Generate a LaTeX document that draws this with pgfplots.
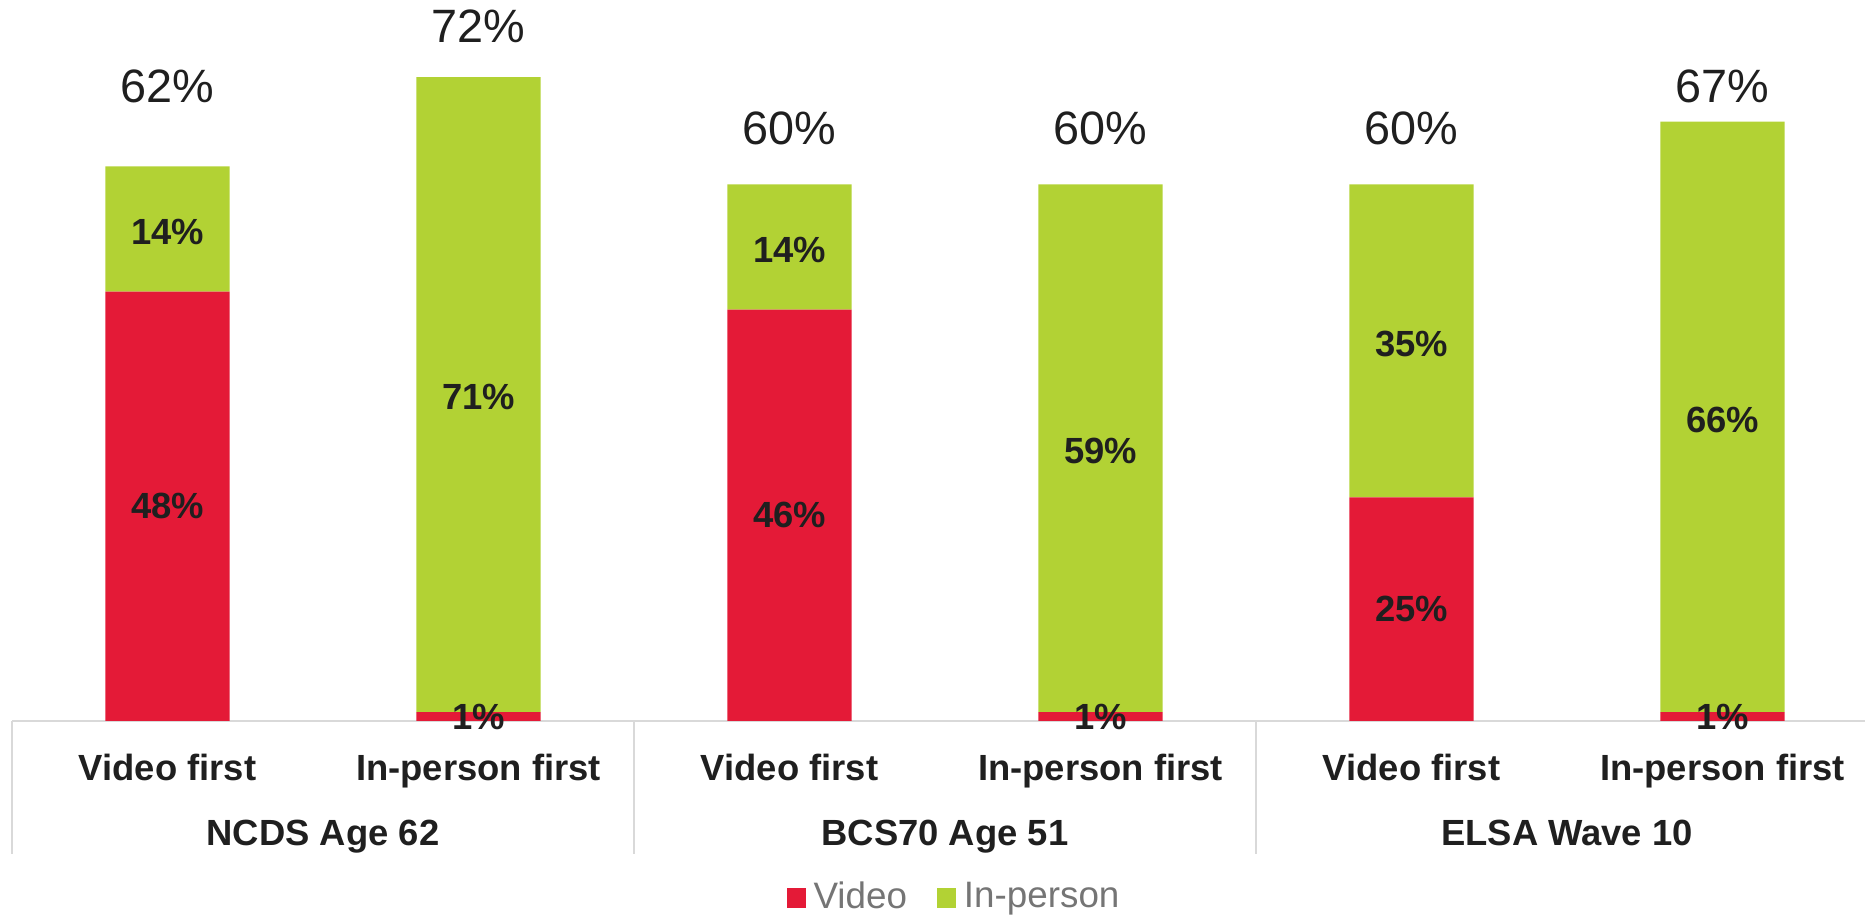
\documentclass[border=0pt]{standalone}
\usepackage{pgfplots}
\pgfplotsset{compat=1.18}
\usepackage{fontspec}
\setmainfont{Liberation Sans}
\definecolor{vred}{HTML}{E41A37}
\definecolor{ipgreen}{HTML}{B2D234}
\definecolor{txt}{HTML}{1F1F1F}
\definecolor{lgray}{HTML}{D9D9D9}
\definecolor{leggray}{HTML}{757575}
\newcommand{\lab}{\bfseries\fontsize{9.1}{10}\selectfont}
\begin{document}
\begin{tikzpicture}
\begin{axis}[
  x=77.75pt, y=2.236pt,
  xmin=-0.5, xmax=5.458, ymin=0, ymax=80.6,
  enlargelimits=false,
  ybar stacked, bar width=31.1pt,
  axis y line=none,
  axis x line*=bottom,
  x axis line style={draw=lgray, line width=0.6pt},
  xtick={0,1,2,3,4,5}, major tick length=0pt,
  xticklabels={Video first, In-person first, Video first, In-person first, Video first, In-person first},
  xticklabel style={font=\lab, text=txt, anchor=base, yshift=-14.85pt, inner sep=0pt},
  ytick=\empty,
  clip=false,
  legend style={at={(axis description cs:0.510,-0.2455)}, anchor=center, draw=none, fill=none,
    font=\fontsize{9.2}{10}\selectfont, text=leggray, inner sep=0pt,
    /tikz/every even column/.append style={column sep=5.5pt}},
  legend columns=2,
  legend image code/.code={\fill[#1, draw=none] (0pt,-2.4pt) rectangle (4.75pt,2.4pt);},
]
% Video share
\addplot[fill=vred, draw=none, nodes near coords, point meta=explicit symbolic,
  nodes near coords align={center},
  nodes near coords style={font=\lab, text=txt}]
coordinates {(0,48)[48\%] (1,1)[1\%] (2,46)[46\%] (3,1)[1\%] (4,25)[25\%] (5,1)[1\%]};
% In-person share
\addplot[fill=ipgreen, draw=none, nodes near coords, point meta=explicit symbolic,
  nodes near coords align={center},
  nodes near coords style={font=\lab, text=txt, yshift=-0.7pt}]
coordinates {(0,14)[14\%] (1,71)[71\%] (2,14)[14\%] (3,59)[59\%] (4,35)[35\%] (5,66)[66\%]};
% totals (invisible spacer carrying the total labels)
\addplot[fill=none, draw=none, nodes near coords, point meta=explicit symbolic,
  nodes near coords align={center},
  nodes near coords style={font=\fontsize{11.7}{13}\selectfont, text=txt}]
coordinates {(0,17.8)[62\%] (1,11.4)[72\%] (2,12.4)[60\%] (3,12.4)[60\%] (4,12.4)[60\%] (5,8.0)[67\%]};
\legend{Video, In-person}
% group separators and labels
\draw[lgray, line width=0.6pt] (axis cs:-0.5,0) -- ([yshift=-33.25pt]axis cs:-0.5,0);
\draw[lgray, line width=0.6pt] (axis cs:1.5,0) -- ([yshift=-33.25pt]axis cs:1.5,0);
\draw[lgray, line width=0.6pt] (axis cs:3.5,0) -- ([yshift=-33.25pt]axis cs:3.5,0);
\node[font=\lab, text=txt, anchor=base, inner sep=0pt] at ([yshift=-31.25pt]axis cs:0.5,0) {NCDS Age 62};
\node[font=\lab, text=txt, anchor=base, inner sep=0pt] at ([yshift=-31.25pt]axis cs:2.5,0) {BCS70 Age 51};
\node[font=\lab, text=txt, anchor=base, inner sep=0pt] at ([yshift=-31.25pt]axis cs:4.5,0) {ELSA Wave 10};
\end{axis}
\pgfresetboundingbox
\path (-3pt,-49pt) rectangle (463.25pt,180.25pt);
\end{tikzpicture}
\end{document}
